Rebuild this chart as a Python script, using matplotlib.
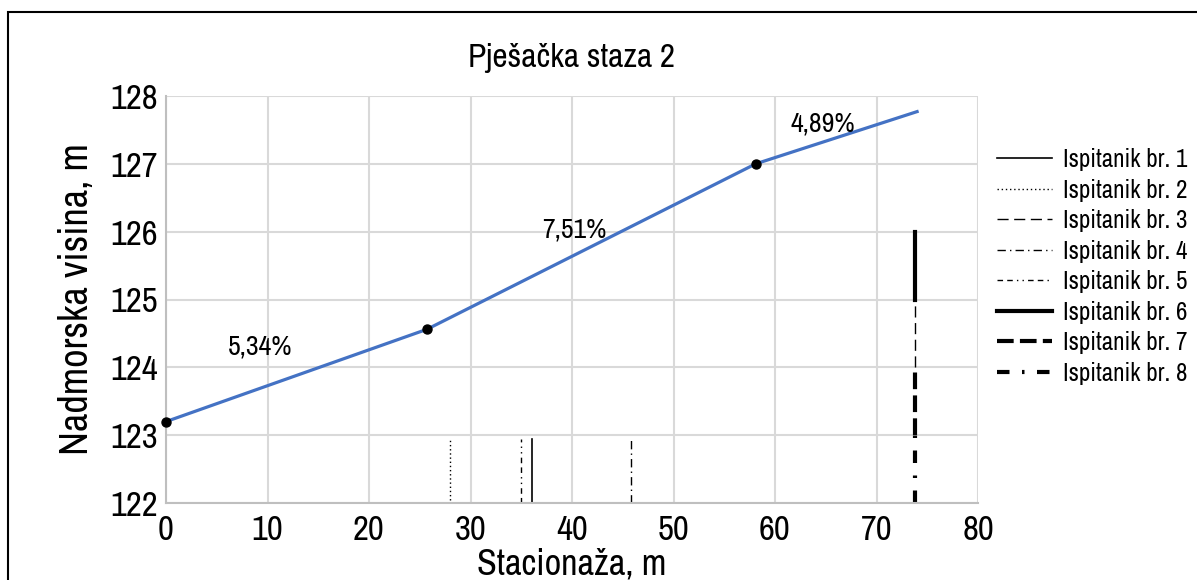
import matplotlib
matplotlib.use("Agg")
import matplotlib.pyplot as plt
from matplotlib.patches import Rectangle

plt.rcParams["font.family"] = ["Archivo Narrow", "Liberation Sans", "DejaVu Sans"]

# profile of the path
station = [0, 25.7, 58.1, 74.0]
elevation = [123.2, 124.56, 127.0, 127.77]
break_x = [0, 25.7, 58.1]
break_y = [123.2, 124.56, 127.0]

slope_labels = ["5,34%", "7,51%", "4,89%"]
slope_x = [9.3, 40.2, 64.7]
slope_y = [124.3, 126.02, 127.58]

# subjects: station, bottom, top
subjects = ["Ispitanik br. 1", "Ispitanik br. 2", "Ispitanik br. 3", "Ispitanik br. 4",
            "Ispitanik br. 5", "Ispitanik br. 6", "Ispitanik br. 7", "Ispitanik br. 8"]
subj_x = [36.1, 28.0, 73.8, 45.8, 35.0, 73.8, 73.8, 73.8]
subj_y0 = [122.0, 122.05, 124.0, 122.0, 122.0, 125.0, 123.0, 122.0]
subj_y1 = [122.95, 122.95, 125.0, 122.95, 122.95, 126.0, 124.0, 123.0]

styles = [
    dict(lw=1.2, ls="-"),
    dict(lw=1.0, ls=(0, (1, 2))),
    dict(lw=1.0, ls=(0, (8, 4))),
    dict(lw=1.0, ls=(0, (6, 3, 1, 3))),
    dict(lw=1.0, ls=(0, (4, 3, 4, 3, 1, 3, 1, 3))),
    dict(lw=3.0, ls="-"),
    dict(lw=3.0, ls=(0, (4, 1.5))),
    dict(lw=3.0, ls=(0, (3, 3, 0.6, 3))),
]

fig = plt.figure(figsize=(11.97, 5.80), dpi=100)
ax = fig.add_axes([166 / 1197, 1 - 503 / 580, (978 - 166) / 1197, (503 - 96) / 580])

ax.plot(station, elevation, color="#4472c4", lw=2.3, zorder=3)
ax.scatter(break_x, break_y, color="black", s=42, zorder=4, clip_on=False)

for lab, x, y in zip(slope_labels, slope_x, slope_y):
    ax.text(x, y, lab, fontsize=20, ha="center", va="center")

for name, x, y0, y1, st in zip(subjects, subj_x, subj_y0, subj_y1, styles):
    ax.plot([x, x], [y0, y1], color="black", label=name, zorder=2, **st)

ax.set_xlim(0, 80)
ax.set_ylim(122, 128)
ax.set_xticks(range(0, 81, 10))
ax.set_yticks(range(122, 129))
ax.grid(True, color="#d9d9d9", lw=1.5)
ax.set_axisbelow(True)
ax.tick_params(axis="y", length=0, labelsize=25, pad=6)
ax.tick_params(axis="x", length=0, labelsize=25, pad=8)
for s in ["top", "right"]:
    ax.spines[s].set_visible(False)
for s in ["left", "bottom"]:
    ax.spines[s].set_color("#bfbfbf")
    ax.spines[s].set_linewidth(1.5)

ax.set_xlabel("Stacionaža, m", fontsize=26, labelpad=1)
ax.set_ylabel("Nadmorska visina, m", fontsize=29, labelpad=11)
ax.set_title("Pješačka staza 2", fontsize=24, pad=21)

ax.legend(loc="upper left", bbox_to_anchor=(1.0234, 0.872), frameon=False, fontsize=18,
          handlelength=2.2, labelspacing=0.3, handletextpad=0.44,
          borderpad=0, borderaxespad=0)

fig.patches.append(Rectangle((8 / 1197, -0.1), 1.1, 1.1 - 12 / 580, transform=fig.transFigure,
                             fill=False, edgecolor="black", lw=1.5))

fig.savefig("out.png", dpi=100)
